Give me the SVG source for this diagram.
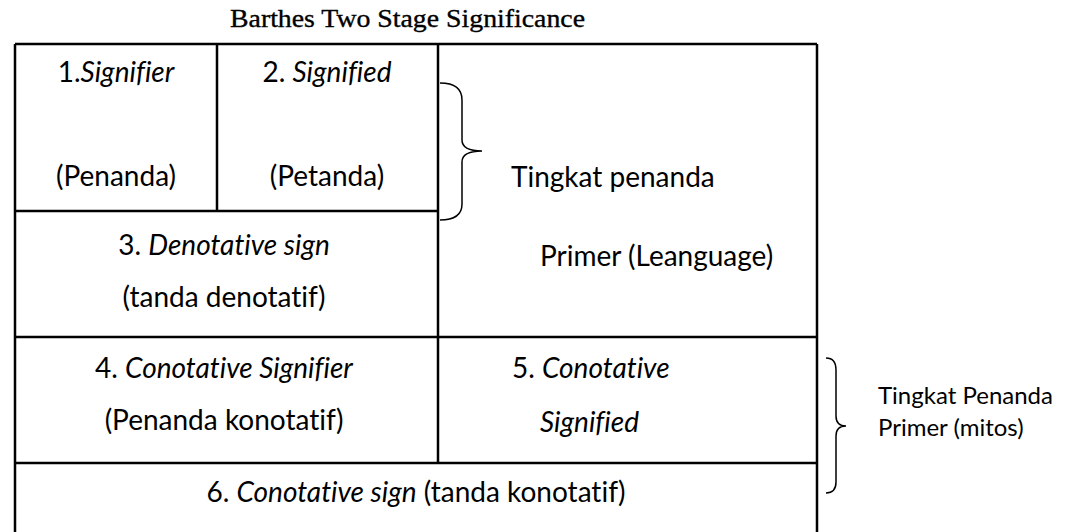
<svg xmlns="http://www.w3.org/2000/svg" width="1074" height="532" viewBox="0 0 1074 532">
<style>
.t{font-family:Lato,"Noto Sans",sans-serif;font-size:28px;fill:#000;font-variant-ligatures:none}
.s{font-size:24px}
.c{text-anchor:middle}
.i{font-style:italic}
.ln{stroke:#000;stroke-width:2.5;fill:none}
.br{stroke:#000;stroke-width:1.5;fill:none}
.title{font-family:"Liberation Serif",serif;font-size:26px;fill:#000;stroke:#000;stroke-width:0.35}
</style>
<rect width="1074" height="532" fill="#fff"/>
<text class="title" x="230" y="27" textLength="355" lengthAdjust="spacingAndGlyphs">Barthes Two Stage Significance</text>
<g id="connectors">
<path class="ln" d="M15 44 H817 M15 44 V532 M817 44 V532 M217 44 V211 M15 211 H438 M438 44 V463 M15 337 H817 M15 463 H817"/>
<path class="br" d="M440 83 Q462 83 462 100 L462 140 Q462 151 482 151 Q462 151 462 162 L462 204 Q462 220 440 220"/>
<path class="br" d="M826 358 Q836 358 836 370 L836 416 Q836 426 846 426 Q836 426 836 436 L836 482 Q836 493 826 493"/>
</g>
<g id="n1"><text class="t c" x="116" y="82">1.<tspan class="i">Signifier</tspan></text><text class="t c" x="116" y="186">(Penanda)</text></g>
<g id="n2"><text class="t c" x="327" y="82">2. <tspan class="i">Signified</tspan></text><text class="t c" x="327" y="186">(Petanda)</text></g>
<g id="n3"><text class="t c" x="224" y="255">3. <tspan class="i">Denotative sign</tspan></text><text class="t c" x="224" y="307">(tanda denotatif)</text></g>
<g id="nPrimer"><text class="t" x="511" y="187">Tingkat penanda</text><text class="t" x="540" y="266">Primer (Leanguage)</text></g>
<g id="n4"><text class="t c" x="224" y="378">4. <tspan class="i">Conotative Signifier</tspan></text><text class="t c" x="224" y="430">(Penanda konotatif)</text></g>
<g id="n5"><text class="t" x="512" y="378">5. <tspan class="i">Conotative</tspan></text><text class="t i" x="540" y="432">Signified</text></g>
<g id="n6"><text class="t c" x="416" y="502">6. <tspan class="i">Conotative sign</tspan> (tanda konotatif)</text></g>
<g id="nMitos"><text class="t s" x="878" y="404">Tingkat Penanda</text><text class="t s" x="878" y="436">Primer (mitos)</text></g>
</svg>
